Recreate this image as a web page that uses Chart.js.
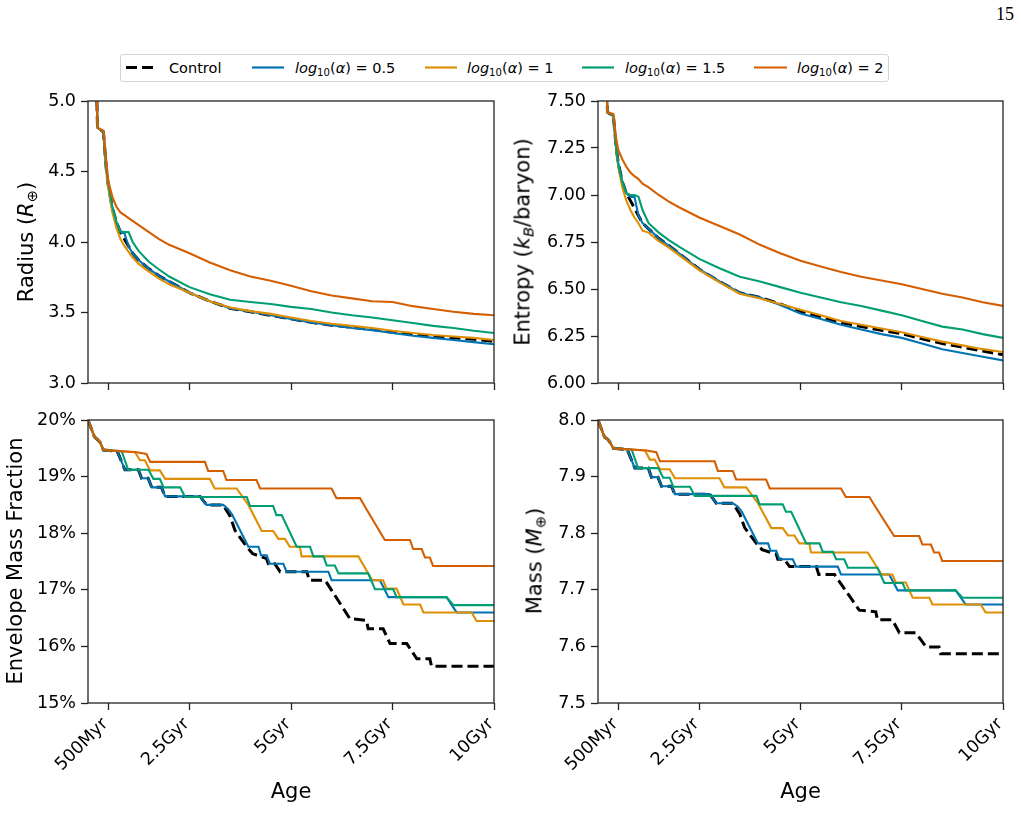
<!DOCTYPE html>
<html>
<head>
<meta charset="utf-8">
<script src="https://cdn.jsdelivr.net/npm/chart.js@4.4.1/dist/chart.umd.min.js"></script>
<style>
html,body{margin:0;padding:0;background:#fff;width:1021px;height:835px;overflow:hidden;font-family:'DejaVu Sans',sans-serif;}
canvas{position:absolute;}
.lbl{position:absolute;white-space:nowrap;color:#000;line-height:1;}
.rot{transform:translate(-50%,-50%) rotate(-90deg);}
.ctr{transform:translate(-50%,-50%);}
.ttl{font-size:21px;}
.leg{font-size:14.5px;}
sub{font-size:70%;vertical-align:-0.3em;line-height:0;}
#legbox{position:absolute;left:120px;top:54px;width:769px;height:28px;box-sizing:border-box;border:1px solid #d4d4d4;border-radius:3px;}
</style>
</head>
<body>
<div class="lbl" style="left:996px;top:5px;font-family:'Liberation Serif',serif;font-size:18px;">15</div>

<div id="legbox"></div>
<svg style="position:absolute;left:0;top:0" width="1021" height="100">
  <line x1="126" y1="67.5" x2="157" y2="67.5" stroke="#000" stroke-width="3" stroke-dasharray="11 5"/>
  <line x1="252" y1="67.5" x2="284" y2="67.5" stroke="#0173B2" stroke-width="2.2"/>
  <line x1="425" y1="67.5" x2="457" y2="67.5" stroke="#DE8F05" stroke-width="2.2"/>
  <line x1="582" y1="67.5" x2="614" y2="67.5" stroke="#029E73" stroke-width="2.2"/>
  <line x1="754" y1="67.5" x2="787" y2="67.5" stroke="#D55E00" stroke-width="2.2"/>
</svg>
<div class="lbl leg" style="left:169px;top:61px;">Control</div>
<div class="lbl leg" style="left:295px;top:61px;"><i>log</i><sub>10</sub>(<i>α</i>) = 0.5</div>
<div class="lbl leg" style="left:467px;top:61px;"><i>log</i><sub>10</sub>(<i>α</i>) = 1</div>
<div class="lbl leg" style="left:625px;top:61px;"><i>log</i><sub>10</sub>(<i>α</i>) = 1.5</div>
<div class="lbl leg" style="left:797px;top:61px;"><i>log</i><sub>10</sub>(<i>α</i>) = 2</div>

<canvas id="cR"></canvas>
<canvas id="cE"></canvas>
<canvas id="cF"></canvas>
<canvas id="cM"></canvas>

<div class="lbl ttl rot" style="left:26px;top:242px;">Radius (<i>R</i><sub>⊕</sub>)</div>
<div class="lbl ttl rot" style="left:523px;top:242px;">Entropy (<i>k</i><sub><i>B</i></sub>/baryon)</div>
<div class="lbl ttl rot" style="left:14.5px;top:561px;">Envelope Mass Fraction</div>
<div class="lbl ttl rot" style="left:534.5px;top:561px;">Mass (<i>M</i><sub>⊕</sub>)</div>
<div class="lbl ttl ctr" style="left:291px;top:791px;">Age</div>
<div class="lbl ttl ctr" style="left:800.5px;top:791px;">Age</div>

<script>
// ---------- x axis (Age, Gyr) ----------
const X_TICKS = [0.5, 2.5, 5, 7.5, 10];
const X_TICK_LABELS = ['500Myr', '2.5Gyr', '5Gyr', '7.5Gyr', '10Gyr'];

// ---------- y tick values / labels ----------
const R_TICKS = [3.0, 3.5, 4.0, 4.5, 5.0];
const R_TICK_LABELS = ['3.0', '3.5', '4.0', '4.5', '5.0'];
const E_TICKS = [6.0, 6.25, 6.5, 6.75, 7.0, 7.25, 7.5];
const E_TICK_LABELS = ['6.00', '6.25', '6.50', '6.75', '7.00', '7.25', '7.50'];
const F_TICKS = [15, 16, 17, 18, 19, 20];
const F_TICK_LABELS = ['15%', '16%', '17%', '18%', '19%', '20%'];
const M_TICKS = [7.5, 7.6, 7.7, 7.8, 7.9, 8.0];
const M_TICK_LABELS = ['7.5', '7.6', '7.7', '7.8', '7.9', '8.0'];

const SERIES_NAMES = ['Control', 'log10(α) = 0.5', 'log10(α) = 1', 'log10(α) = 1.5', 'log10(α) = 2'];

// ---------- Radius & Entropy (shared age samples, Gyr) ----------
const T_SMOOTH = [0.15, 0.235, 0.38, 0.45, 0.5, 0.6, 0.7, 0.8, 0.9, 1.0, 1.1, 1.25, 1.5, 1.75, 2.0, 2.5, 3.0, 3.5, 4.0, 4.5, 5.0, 5.5, 6.0, 6.5, 7.0, 7.5, 8.0, 8.5, 9.0, 9.5, 10];

const R_CTRL = [5.8, 4.81, 4.78, 4.52, 4.40, 4.24, 4.14, 4.07, 4.02, 3.97, 3.92, 3.87, 3.81, 3.76, 3.72, 3.64, 3.58, 3.53, 3.505, 3.48, 3.455, 3.43, 3.41, 3.395, 3.38, 3.36, 3.345, 3.33, 3.32, 3.31, 3.295];
const R_A05  = [5.8, 4.81, 4.78, 4.52, 4.40, 4.24, 4.14, 4.07, 4.06, 3.97, 3.92, 3.87, 3.81, 3.76, 3.72, 3.64, 3.58, 3.53, 3.505, 3.48, 3.455, 3.43, 3.41, 3.39, 3.375, 3.355, 3.335, 3.32, 3.305, 3.29, 3.275];
const R_A1   = [5.8, 4.81, 4.78, 4.50, 4.38, 4.21, 4.10, 4.02, 3.97, 3.93, 3.89, 3.845, 3.79, 3.74, 3.70, 3.64, 3.58, 3.535, 3.51, 3.49, 3.465, 3.44, 3.42, 3.405, 3.39, 3.37, 3.355, 3.34, 3.33, 3.32, 3.305];
const R_A15  = [5.8, 4.81, 4.78, 4.53, 4.42, 4.25, 4.14, 4.075, 4.07, 4.07, 4.00, 3.935, 3.86, 3.805, 3.755, 3.68, 3.63, 3.59, 3.575, 3.56, 3.54, 3.525, 3.50, 3.48, 3.465, 3.445, 3.425, 3.405, 3.39, 3.37, 3.355];
const R_A2   = [5.8, 4.81, 4.79, 4.58, 4.43, 4.32, 4.25, 4.21, 4.19, 4.17, 4.15, 4.12, 4.07, 4.02, 3.98, 3.92, 3.855, 3.80, 3.755, 3.725, 3.69, 3.65, 3.62, 3.60, 3.58, 3.575, 3.545, 3.525, 3.505, 3.49, 3.48];

const E_CTRL = [7.9, 7.44, 7.42, 7.25, 7.17, 7.07, 7.01, 6.97, 6.93, 6.89, 6.85, 6.82, 6.77, 6.73, 6.69, 6.605, 6.54, 6.48, 6.455, 6.42, 6.38, 6.35, 6.32, 6.30, 6.28, 6.263, 6.235, 6.21, 6.19, 6.17, 6.15];
const E_A05  = [7.9, 7.44, 7.42, 7.25, 7.17, 7.07, 7.01, 6.99, 6.99, 6.89, 6.85, 6.82, 6.77, 6.73, 6.69, 6.605, 6.54, 6.48, 6.455, 6.415, 6.37, 6.34, 6.31, 6.285, 6.26, 6.24, 6.21, 6.18, 6.16, 6.14, 6.12];
const E_A1   = [7.9, 7.44, 7.42, 7.24, 7.15, 7.04, 6.97, 6.92, 6.88, 6.85, 6.81, 6.80, 6.755, 6.72, 6.68, 6.60, 6.535, 6.475, 6.45, 6.42, 6.39, 6.36, 6.33, 6.31, 6.29, 6.27, 6.245, 6.22, 6.20, 6.18, 6.165];
const E_A15  = [7.9, 7.44, 7.42, 7.25, 7.16, 7.07, 7.01, 7.00, 7.00, 6.99, 6.92, 6.85, 6.80, 6.76, 6.725, 6.66, 6.61, 6.565, 6.54, 6.51, 6.48, 6.455, 6.43, 6.41, 6.385, 6.36, 6.33, 6.30, 6.285, 6.26, 6.24];
const E_A2   = [7.9, 7.44, 7.43, 7.30, 7.24, 7.19, 7.15, 7.12, 7.10, 7.085, 7.06, 7.04, 7.00, 6.965, 6.935, 6.88, 6.835, 6.79, 6.735, 6.69, 6.65, 6.62, 6.59, 6.565, 6.545, 6.525, 6.50, 6.475, 6.455, 6.43, 6.41];

// ---------- Envelope fraction (%) & Mass (M_earth), stepped mass-loss histories ----------
const T_CTRL = [0, 0.08, 0.16, 0.24, 0.3, 0.38, 0.72, 0.91, 1.24, 1.32, 1.48, 1.57, 1.81, 1.9, 2.76, 2.92, 3.33, 3.5, 3.62, 3.91, 4.05, 4.4, 4.44, 4.6, 4.73, 5.39, 5.45, 5.84, 6.45, 6.86, 6.9, 7.27, 7.44, 7.85, 8.1, 8.42, 8.46, 10];
const F_CTRL = [20, 19.85, 19.7, 19.65, 19.6, 19.47, 19.45, 19.12, 19.12, 18.97, 18.97, 18.81, 18.81, 18.65, 18.65, 18.5, 18.5, 18.3, 18.05, 17.76, 17.64, 17.55, 17.46, 17.46, 17.32, 17.32, 17.17, 17.17, 16.49, 16.46, 16.31, 16.31, 16.05, 16.05, 15.78, 15.78, 15.65, 15.65];
const M_CTRL = [8.0, 7.985, 7.970, 7.966, 7.960, 7.950, 7.948, 7.915, 7.915, 7.899, 7.899, 7.883, 7.883, 7.869, 7.869, 7.853, 7.853, 7.834, 7.810, 7.782, 7.771, 7.763, 7.754, 7.754, 7.741, 7.741, 7.727, 7.727, 7.664, 7.661, 7.647, 7.647, 7.624, 7.624, 7.599, 7.599, 7.587, 7.587];

const T_A05 = [0, 0.08, 0.16, 0.24, 0.3, 0.38, 0.72, 0.91, 1.24, 1.32, 1.48, 1.57, 1.81, 1.9, 2.76, 2.92, 3.33, 3.45, 3.55, 3.95, 4.2, 4.26, 4.4, 4.48, 4.81, 4.89, 5.92, 6.0, 7.19, 7.4, 8.83, 9.08, 10];
const F_A05 = [20, 19.85, 19.7, 19.65, 19.6, 19.47, 19.45, 19.12, 19.12, 18.97, 18.97, 18.81, 18.81, 18.65, 18.65, 18.5, 18.5, 18.43, 18.33, 17.76, 17.76, 17.61, 17.61, 17.46, 17.46, 17.32, 17.32, 17.17, 17.17, 16.87, 16.87, 16.60, 16.60];
const M_A05 = [8.0, 7.985, 7.970, 7.966, 7.960, 7.950, 7.948, 7.915, 7.915, 7.899, 7.899, 7.883, 7.883, 7.869, 7.869, 7.853, 7.853, 7.847, 7.838, 7.782, 7.782, 7.769, 7.769, 7.754, 7.754, 7.741, 7.741, 7.727, 7.727, 7.699, 7.699, 7.674, 7.674];

const T_A1 = [0, 0.08, 0.16, 0.24, 0.3, 0.38, 1.16, 1.28, 1.4, 1.53, 1.77, 1.9, 3.0, 3.12, 3.66, 3.95, 4.28, 4.56, 4.69, 4.85, 4.97, 5.22, 5.26, 6.66, 7.0, 7.27, 7.35, 7.6, 7.77, 8.18, 8.26, 9.45, 9.57, 10];
const F_A1 = [20, 19.85, 19.7, 19.65, 19.6, 19.47, 19.43, 19.29, 19.29, 19.11, 19.11, 18.96, 18.96, 18.79, 18.79, 18.5, 18.04, 18.04, 17.90, 17.90, 17.76, 17.76, 17.59, 17.59, 17.17, 17.17, 17.02, 17.02, 16.74, 16.74, 16.60, 16.60, 16.45, 16.45];
const M_A1 = [8.0, 7.985, 7.970, 7.966, 7.960, 7.950, 7.946, 7.930, 7.930, 7.913, 7.913, 7.897, 7.897, 7.881, 7.881, 7.853, 7.809, 7.809, 7.796, 7.796, 7.782, 7.782, 7.766, 7.766, 7.727, 7.727, 7.713, 7.713, 7.686, 7.686, 7.674, 7.674, 7.660, 7.660];

const T_A15 = [0, 0.08, 0.16, 0.24, 0.3, 0.38, 0.83, 0.99, 1.49, 1.61, 1.77, 1.86, 2.27, 2.39, 3.91, 3.99, 4.56, 4.64, 4.77, 5.14, 5.47, 5.55, 5.8, 5.88, 6.08, 6.17, 6.9, 7.07, 7.52, 7.6, 8.83, 9.0, 10];
const F_A15 = [20, 19.85, 19.7, 19.65, 19.6, 19.47, 19.45, 19.12, 19.12, 18.96, 18.96, 18.81, 18.81, 18.64, 18.64, 18.48, 18.48, 18.32, 18.32, 17.76, 17.76, 17.59, 17.59, 17.43, 17.43, 17.29, 17.29, 17.01, 17.01, 16.87, 16.87, 16.73, 16.73];
const M_A15 = [8.0, 7.985, 7.970, 7.966, 7.960, 7.950, 7.948, 7.915, 7.915, 7.898, 7.898, 7.882, 7.882, 7.866, 7.866, 7.851, 7.851, 7.838, 7.838, 7.782, 7.782, 7.767, 7.767, 7.754, 7.754, 7.739, 7.739, 7.712, 7.712, 7.699, 7.699, 7.686, 7.686];

const T_A2 = [0, 0.08, 0.16, 0.24, 0.3, 0.38, 1.2, 1.44, 1.53, 2.88, 2.96, 3.33, 3.41, 4.15, 4.24, 6.0, 6.12, 6.7, 6.83, 7.31, 7.93, 8.01, 8.22, 8.3, 8.42, 8.5, 10];
const F_A2 = [20, 19.85, 19.7, 19.65, 19.6, 19.47, 19.43, 19.4, 19.26, 19.26, 19.10, 19.10, 18.94, 18.94, 18.79, 18.79, 18.62, 18.62, 18.46, 17.88, 17.88, 17.72, 17.72, 17.57, 17.57, 17.42, 17.42];
const M_A2 = [8.0, 7.985, 7.970, 7.966, 7.960, 7.950, 7.946, 7.943, 7.927, 7.927, 7.910, 7.910, 7.895, 7.895, 7.879, 7.879, 7.864, 7.864, 7.849, 7.795, 7.795, 7.780, 7.780, 7.766, 7.766, 7.751, 7.751];

// ---------- styles ----------
const STYLES = [
  {color: '#000000', width: 3, dash: [11, 5], order: 4},
  {color: '#0173B2', width: 2.1, dash: [], order: 3},
  {color: '#DE8F05', width: 2.1, dash: [], order: 2},
  {color: '#029E73', width: 2.1, dash: [], order: 1},
  {color: '#D55E00', width: 2.1, dash: [], order: 0}
];
const FONT = {family: "'DejaVu Sans', sans-serif", size: 17.5};
const AX = '#222222';

const framePlugin = {
  id: 'frame',
  afterDatasetsDraw(chart) {
    const {ctx, chartArea: a} = chart;
    ctx.save();
    ctx.strokeStyle = AX;
    ctx.lineWidth = 1.3;
    ctx.strokeRect(a.left, a.top, a.right - a.left, a.bottom - a.top);
    ctx.restore();
  }
};

function pts(T, V) { return T.map((t, i) => ({x: t, y: V[i]})); }

function makePanel(id, area, yMin, yMax, yTicks, yLabels, series, showX) {
  const YW = 80, PT = 15, PR = 12;
  const XH = showX ? 80 : 12;
  const cv = document.getElementById(id);
  const w = YW + area.w + PR, h = PT + area.h + XH;
  cv.width = w; cv.height = h;
  cv.style.width = w + 'px'; cv.style.height = h + 'px';
  cv.style.left = (area.l - YW) + 'px';
  cv.style.top = (area.t - PT) + 'px';
  const datasets = series.map((s, i) => ({
    label: SERIES_NAMES[i],
    data: pts(s[0], s[1]),
    borderColor: STYLES[i].color,
    backgroundColor: STYLES[i].color,
    borderWidth: STYLES[i].width,
    borderDash: STYLES[i].dash,
    order: STYLES[i].order,
    pointRadius: 0,
    tension: 0,
    fill: false
  }));
  new Chart(cv, {
    type: 'line',
    data: {datasets},
    plugins: [framePlugin],
    options: {
      responsive: false,
      animation: false,
      devicePixelRatio: 1,
      layout: {padding: {left: 0, top: PT, right: PR, bottom: 0}},
      plugins: {legend: {display: false}, tooltip: {enabled: false}},
      scales: {
        x: {
          type: 'linear', min: 0, max: 10,
          afterBuildTicks: s => { s.ticks = X_TICKS.map(v => ({value: v})); },
          afterFit: s => { s.height = XH; s.paddingLeft = 0; s.paddingRight = 0; s.paddingTop = 0; s.paddingBottom = 0; },
          ticks: {
            display: showX, autoSkip: false, minRotation: 45, maxRotation: 45,
            padding: 4, labelOffset: -3, color: '#000', font: FONT,
            callback: v => X_TICK_LABELS[X_TICKS.indexOf(v)]
          },
          grid: {drawOnChartArea: false, drawTicks: true, tickLength: 7, tickColor: AX, tickWidth: 1.3},
          border: {display: false}
        },
        y: {
          type: 'linear', min: yMin, max: yMax,
          afterBuildTicks: s => { s.ticks = yTicks.map(v => ({value: v})); },
          afterFit: s => { s.width = YW; s.paddingLeft = 0; s.paddingRight = 0; s.paddingTop = 0; s.paddingBottom = 0; },
          ticks: {
            autoSkip: false, padding: 5, color: '#000', font: FONT,
            callback: v => yLabels[yTicks.indexOf(v)]
          },
          grid: {drawOnChartArea: false, drawTicks: true, tickLength: 7, tickColor: AX, tickWidth: 1.3},
          border: {display: false}
        }
      }
    }
  });
}

makePanel('cR', {l: 88, t: 101, w: 406, h: 282}, 3.0, 5.0, R_TICKS, R_TICK_LABELS,
  [[T_SMOOTH, R_CTRL], [T_SMOOTH, R_A05], [T_SMOOTH, R_A1], [T_SMOOTH, R_A15], [T_SMOOTH, R_A2]], false);
makePanel('cE', {l: 598, t: 101, w: 405, h: 282}, 6.0, 7.5, E_TICKS, E_TICK_LABELS,
  [[T_SMOOTH, E_CTRL], [T_SMOOTH, E_A05], [T_SMOOTH, E_A1], [T_SMOOTH, E_A15], [T_SMOOTH, E_A2]], false);
makePanel('cF', {l: 88, t: 420, w: 406, h: 283}, 15, 20, F_TICKS, F_TICK_LABELS,
  [[T_CTRL, F_CTRL], [T_A05, F_A05], [T_A1, F_A1], [T_A15, F_A15], [T_A2, F_A2]], true);
makePanel('cM', {l: 598, t: 420, w: 405, h: 283}, 7.5, 8.0, M_TICKS, M_TICK_LABELS,
  [[T_CTRL, M_CTRL], [T_A05, M_A05], [T_A1, M_A1], [T_A15, M_A15], [T_A2, M_A2]], true);
</script>
</body>
</html>
